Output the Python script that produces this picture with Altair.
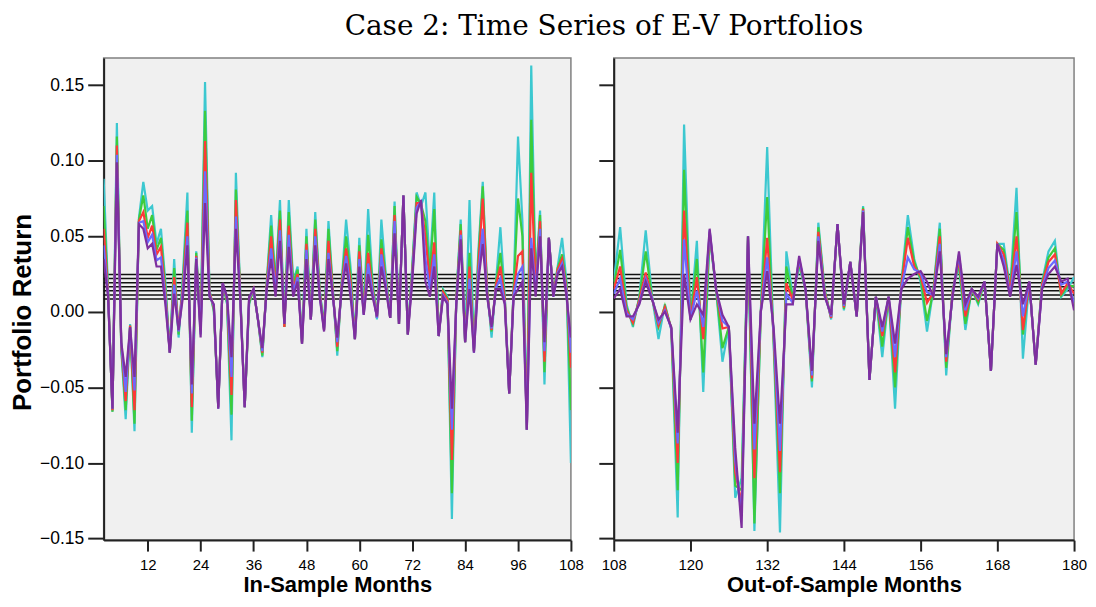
import altair as alt
import pandas as pd

# ---------------- data ----------------
months_in = list(range(2, 109))
months_out = list(range(108, 181))

in_cyan = [.088, .015, -.066, .125, -.025, -.071, -.008, -.079, .062, .086,
           .067, .070, .045, .055, .020, -.027, .035, -.017, .025, .079,
           -.080, .040, -.010, .152, .015, .000, -.062, .019, .005, -.085,
           .092, .012, -.063, .005, .015, -.005, -.030, .020, .064, .020,
           .074, -.010, .074, .020, .030, -.020, .055, -.005, .066, .015,
           -.010, .060, .015, -.029, .020, .061, .030, -.018, .049, .000,
           .068, .020, -.005, .061, .025, -.004, .073, -.008, .077, -.015,
           .030, .079, .070, .079, .030, .079, -.016, .015, .010, -.137,
           .010, .061, -.020, .074, -.025, .040, .086, .015, -.017, .020,
           .056, .010, -.054, .015, .116, .060, -.078, .163, .020, .067,
           -.048, .049, .012, .030, .049, .020, -.100]
in_green = [.070, .014, -.066, .116, -.024, -.065, -.009, -.074, .061, .077,
            .055, .064, .041, .049, .016, -.027, .029, -.015, .021, .067,
            -.072, .039, -.012, .133, .014, .001, -.063, .019, .006, -.068,
            .081, .011, -.063, .006, .015, -.005, -.029, .019, .057, .018,
            .067, -.010, .066, .018, .028, -.021, .050, -.005, .061, .014,
            -.011, .055, .014, -.026, .019, .050, .025, -.018, .044, -.001,
            .051, .018, -.004, .048, .023, -.004, .070, -.008, .077, -.015,
            .028, .076, .071, .060, .025, .068, -.016, .014, .009, -.120,
            .009, .058, -.020, .039, -.026, .035, .083, .014, -.013, .019,
            .039, .009, -.054, .014, .075, .050, -.078, .127, .018, .064,
            -.040, .049, .011, .029, .038, .018, -.065]
in_red = [.055, .013, -.065, .110, -.022, -.059, -.009, -.065, .060, .066,
          .049, .057, .038, .043, .012, -.027, .023, -.012, .017, .059,
          -.063, .037, -.013, .113, .013, .003, -.063, .019, .008, -.055,
          .074, .010, -.063, .008, .015, -.005, -.027, .018, .050, .015,
          .061, -.010, .057, .015, .025, -.021, .045, -.005, .055, .013,
          -.012, .047, .013, -.023, .018, .042, .020, -.018, .040, -.001,
          .039, .015, -.004, .042, .020, -.004, .064, -.008, .077, -.015,
          .025, .072, .072, .049, .020, .046, -.016, .013, .008, -.098,
          .008, .054, -.020, .030, -.026, .030, .075, .013, -.012, .018,
          .030, .008, -.054, .013, .037, .040, -.078, .092, .015, .060,
          -.033, .049, .011, .028, .035, .015, -.037]
in_blue = [.044, .011, -.064, .104, -.021, -.053, -.010, -.052, .059, .060,
           .046, .051, .034, .036, .009, -.027, .018, -.013, .014, .050,
           -.054, .036, -.015, .093, .011, .004, -.064, .019, .009, -.043,
           .063, .009, -.063, .009, .015, -.005, -.026, .016, .042, .013,
           .054, -.008, .051, .013, .023, -.021, .041, -.005, .050, .011,
           -.012, .039, .011, -.020, .016, .037, .015, -.018, .035, -.002,
           .032, .013, -.004, .038, .018, -.004, .060, -.008, .077, -.015,
           .023, .069, .073, .035, .015, .038, -.016, .011, .006, -.078,
           .006, .051, -.020, .022, -.027, .025, .055, .011, -.011, .016,
           .022, .006, -.054, .011, .025, .030, -.078, .049, .013, .055,
           -.026, .049, .010, .026, .032, .013, -.027]
in_purple = [.035, .010, -.064, .099, -.020, -.043, -.010, -.043, .058, .055,
             .042, .045, .030, .030, .005, -.027, .012, -.012, .010, .044,
             -.048, .035, -.017, .072, .010, .005, -.064, .019, .010, -.030,
             .055, .008, -.063, .010, .015, -.005, -.024, .015, .035, .010,
             .047, -.008, .043, .010, .020, -.021, .035, -.005, .044, .010,
             -.013, .035, .010, -.017, .015, .032, .010, -.018, .030, -.002,
             .025, .010, -.003, .030, .015, -.004, .052, -.008, .077, -.015,
             .020, .065, .074, .020, .010, .030, -.016, .010, .005, -.064,
             .005, .048, -.020, .015, -.027, .020, .045, .010, -.010, .015,
             .015, .005, -.054, .010, .015, .020, -.078, .042, .010, .050,
             -.020, .049, .010, .025, .030, .010, -.017]

out_cyan = [.020, .056, .005, -.010, .010, .054, .010, -.018, .005, -.012,
            -.136, .124, -.005, .047, -.053, .050, .015, -.033, -.010, -.123,
            -.110, .050, -.145, .000, .109, -.020, -.146, .040, .010, .030,
            .015, -.050, .059, .015, -.005, .058, .001, .033, -.003, .070,
            -.045, .010, -.030, .010, -.064, .020, .064, .035, .020, -.013,
            .015, .059, -.042, .015, .030, -.012, .015, .005, .020, -.039,
            .045, .045, .015, .082, -.031, .020, -.035, .020, .040, .047,
            .010, .015, .023]
out_green = [.017, .041, .003, -.008, .009, .040, .009, -.010, .004, -.011,
             -.118, .094, -.005, .035, -.040, .051, .015, -.024, -.010, -.115,
             -.118, .050, -.140, .000, .076, -.018, -.120, .030, .009, .032,
             .015, -.046, .056, .014, -.004, .058, .002, .033, -.003, .069,
             -.045, .010, -.023, .010, -.050, .019, .056, .033, .022, -.006,
             .014, .055, -.037, .014, .032, -.008, .015, .006, .020, -.039,
             .045, .041, .014, .066, -.015, .020, -.035, .019, .036, .042,
             .011, .017, .017]
out_red = [.015, .030, .001, -.007, .008, .026, .009, -.009, .003, -.011,
           -.100, .067, -.005, .023, -.018, .053, .015, -.011, -.010, -.106,
           -.127, .050, -.110, .000, .049, -.015, -.106, .019, .008, .034,
           .015, -.044, .053, .013, -.004, .058, .003, .033, -.003, .068,
           -.045, .010, -.016, .010, -.040, .018, .049, .030, .024, .006,
           .013, .050, -.033, .013, .035, -.003, .015, .008, .020, -.039,
           .045, .038, .013, .050, -.012, .020, -.035, .018, .033, .038,
           .012, .019, .012]
out_blue = [.012, .022, -.001, -.005, .006, .022, .009, -.007, .001, -.011,
            -.087, .048, -.005, .014, -.010, .054, .015, -.006, -.010, -.098,
            -.135, .050, -.091, .000, .036, -.013, -.092, .012, .006, .035,
            .015, -.042, .050, .011, -.003, .058, .004, .033, -.003, .067,
            -.045, .010, -.013, .010, -.030, .016, .036, .028, .026, .013,
            .011, .045, -.030, .011, .038, .001, .015, .009, .020, -.039,
            .045, .034, .011, .040, -.003, .020, -.035, .016, .029, .034,
            .018, .020, .006]
out_purple = [.009, .015, -.003, -.003, .005, .020, .008, -.005, .000, -.010,
              -.080, .025, -.005, .005, -.002, .055, .015, -.002, -.010, -.090,
              -.143, .050, -.074, .000, .027, -.010, -.074, .005, .005, .037,
              .015, -.039, .047, .010, -.002, .058, .005, .033, -.003, .066,
              -.045, .010, -.010, .010, -.021, .015, .022, .025, .027, .020,
              .010, .040, -.028, .010, .040, .005, .015, .010, .020, -.039,
              .045, .030, .010, .031, .005, .020, -.035, .015, .025, .030,
              .020, .022, .001]

mean_levels = [0.0085, 0.0112, 0.0139, 0.0166, 0.0193, 0.0220, 0.0247]

series_order = ["cyan", "green", "red", "blue", "purple"]
series_colors = {"cyan": "#3CC8D0", "green": "#3CCC3C", "red": "#FF3838",
                 "blue": "#6A6AFF", "purple": "#7E2F9E"}
in_data = {"cyan": in_cyan, "green": in_green, "red": in_red,
           "blue": in_blue, "purple": in_purple}
out_data = {"cyan": out_cyan, "green": out_green, "red": out_red,
            "blue": out_blue, "purple": out_purple}

y_ticks = [-0.15, -0.10, -0.05, 0.0, 0.05, 0.10, 0.15]
in_ticks = [12, 24, 36, 48, 60, 72, 84, 96, 108]
out_ticks = [108, 120, 132, 144, 156, 168, 180]

# ---------------- chart ----------------
y_scale = alt.Scale(domain=[-0.151, 0.168], nice=False, zero=False)
sans = "Liberation Sans"


def panel(months, data, domain, ticks, xtitle, show_labels, width):
    rows = []
    for s in series_order:
        for m, v in zip(months, data[s]):
            rows.append({"month": m, "value": v, "series": s})
    df = pd.DataFrame(rows)
    if show_labels:
        yaxis = alt.Axis(values=y_ticks, format=".2f", grid=False,
                         title="Portfolio Return", titleY=255,
                         tickSize=16, labelFontSize=17.5, labelPadding=4,
                         titleFontSize=26, titleFontWeight="bold",
                         titlePadding=4, labelFont=sans, titleFont=sans)
    else:
        yaxis = alt.Axis(values=y_ticks, labels=False, title=None, grid=False,
                         tickSize=15)
    xaxis = alt.Axis(values=ticks, title=xtitle, tickSize=11, grid=False,
                     labelFontSize=15, labelFont=sans, labelPadding=6,
                     titleFont=sans, titleFontSize=22,
                     titleFontWeight="bold", titlePadding=3, labelFlush=False)
    x_enc = alt.X("month:Q", scale=alt.Scale(domain=domain, nice=False, zero=False),
                  axis=xaxis)
    y_enc = alt.Y("value:Q", scale=y_scale, axis=yaxis)
    rules = alt.Chart(pd.DataFrame({"value": mean_levels})).mark_rule(
        color="#111111", strokeWidth=1.5).encode(y=y_enc)
    layers = [rules]
    for s in series_order:
        layers.append(
            alt.Chart(df).transform_filter(alt.datum.series == s)
            .mark_line(color=series_colors[s], strokeWidth=2.2, clip=True)
            .encode(x=x_enc, y=y_enc)
        )
    return alt.layer(*layers).properties(width=width, height=484)


left = panel(months_in, in_data, [2, 108], in_ticks, "In-Sample Months", True, 469)
right = panel(months_out, out_data, [108, 180], out_ticks, "Out-of-Sample Months", False, 462)

chart = alt.hconcat(left, right, spacing=43, bounds="flush").properties(
    title=alt.TitleParams("Case 2:  Time Series of E-V Portfolios",
                          font="DejaVu Serif", fontSize=28,
                          fontWeight="normal", anchor="middle", offset=16,
                          dx=56, color="#000000"),
    padding={"left": 0, "top": 4, "right": 0, "bottom": 0},
    background="white",
).configure_view(
    fill="#F0F0F0", stroke="#808080", strokeWidth=1.5
).configure_axis(
    domainColor="#222222", domainWidth=2, tickColor="#222222", tickWidth=2,
    grid=False, labelColor="#000000", titleColor="#000000"
)

chart.save("out.html", embed_options={"renderer": "svg", "actions": False})
